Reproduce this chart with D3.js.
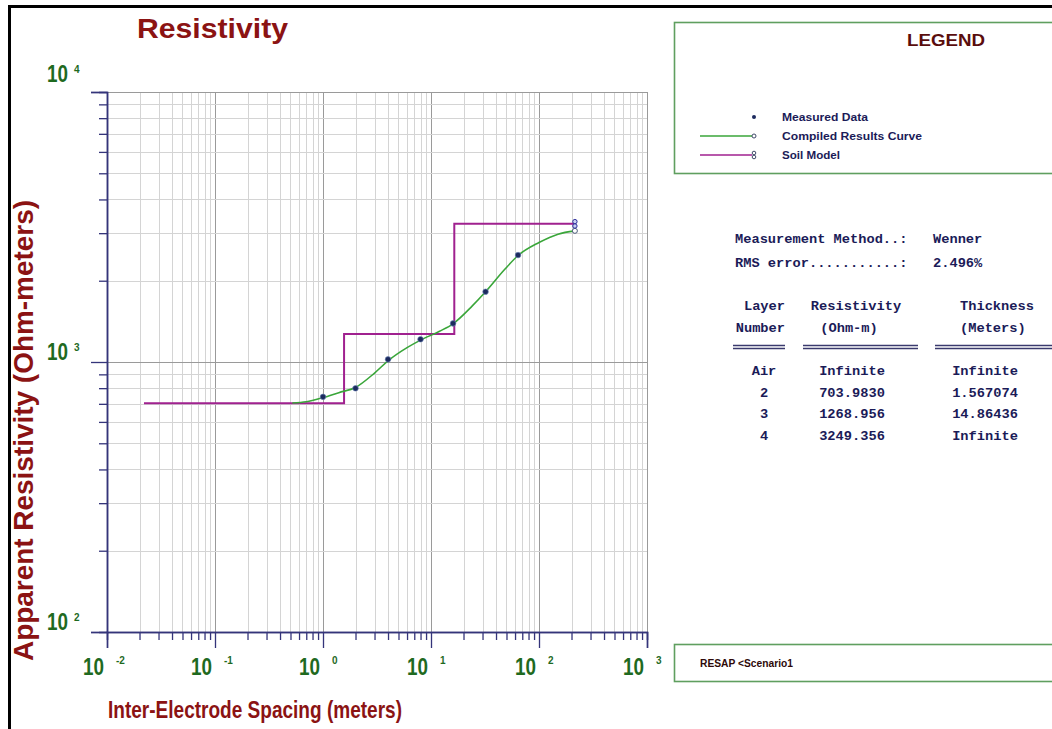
<!DOCTYPE html>
<html><head><meta charset="utf-8">
<script src="https://cdn.jsdelivr.net/npm/d3@7"></script>
<style>
html,body{margin:0;padding:0;background:#fff;}
svg{display:block;}
</style></head>
<body>
<svg id="chart" width="1052" height="729"></svg>
<script>
// ---- data ----
const measuredSpacing = [1, 2, 4, 8, 16, 32, 64];
const measuredRho = [743, 799, 1023, 1214, 1390, 1821, 2489];
const curveSpacing = [0.52, 0.7, 1, 1.4, 2, 3, 4, 6, 8, 12, 16, 24, 32, 48, 64, 100, 150, 215];
const curveRho = [705, 712, 738, 770, 805, 910, 1010, 1130, 1205, 1300, 1385, 1610, 1820, 2200, 2480, 2770, 2975, 3060];
const modelSpacing = [0.022, 1.567074, 16.431434, 215];
const modelRho = [703.983, 1268.956, 3249.356, 3249.356];
const xTickExp = [-2, -1, 0, 1, 2, 3];
const yTickExp = [2, 3, 4];
const layerNames = ["Air", "2", "3", "4"];
const layerRho = ["Infinite", "703.9830", "1268.956", "3249.356"];
const layerThick = ["Infinite", "1.567074", "14.86436", "Infinite"];
const legendLabels = ["Measured Data", "Compiled Results Curve", "Soil Model"];
const infoLabels = ["Measurement Method..:", "RMS error...........:"];
const infoValues = ["Wenner", "2.496%"];

// ---- styling ----
const RED = "#8b1313", GREEN_TXT = "#1f6a1f", AXIS = "#34347a", NAVY = "#1b1b58";
const CURVE = "#3aa63a", MODEL = "#a0218f", BOX = "#5f9f5f";
const SANS = "'Liberation Sans', Arial, sans-serif";
const MONO = "'Liberation Mono', 'DejaVu Sans Mono', monospace";

const svg = d3.select("#chart");
svg.append("rect").attr("width", 1052).attr("height", 729).attr("fill", "#fff");

// frame
svg.append("line").attr("x1", 9.5).attr("x2", 9.5).attr("y1", 5).attr("y2", 729).attr("stroke", "#000").attr("stroke-width", 3);
svg.append("line").attr("x1", 8).attr("x2", 1052).attr("y1", 6.5).attr("y2", 6.5).attr("stroke", "#000").attr("stroke-width", 3);

const x = d3.scaleLog().domain([1e-2, 1e3]).range([107, 647]);
const y = d3.scaleLog().domain([1e2, 1e4]).range([632, 92]);

const xAll = x.ticks();
const yAll = y.ticks();
const isMajor = v => Math.abs(Math.log10(v) - Math.round(Math.log10(v))) < 1e-9;

// grid
const g = svg.append("g");
g.selectAll(".vx").data(xAll).join("line")
  .attr("x1", d => Math.round(x(d)) + 0.5).attr("x2", d => Math.round(x(d)) + 0.5)
  .attr("y1", y.range()[1]).attr("y2", y.range()[0])
  .attr("stroke", d => isMajor(d) ? "#9a9a9a" : "#d4d4d4").attr("stroke-width", 1);
g.selectAll(".hy").data(yAll).join("line")
  .attr("y1", d => Math.round(y(d)) + 0.5).attr("y2", d => Math.round(y(d)) + 0.5)
  .attr("x1", x.range()[0]).attr("x2", x.range()[1])
  .attr("stroke", d => isMajor(d) ? "#9a9a9a" : "#d4d4d4").attr("stroke-width", 1);

// axes
const xMinorAxis = d3.axisBottom(x).tickValues(xAll.filter(d => !isMajor(d))).tickSize(8).tickFormat("");
const xMajorAxis = d3.axisBottom(x).tickValues(xAll.filter(isMajor)).tickSize(16).tickFormat("");
const yMinorAxis = d3.axisLeft(y).tickValues(yAll.filter(d => !isMajor(d))).tickSize(8).tickFormat("");
const yMajorAxis = d3.axisLeft(y).tickValues(yAll.filter(isMajor)).tickSize(16).tickFormat("");
function styleAxis(sel) {
  sel.selectAll("path").attr("stroke", AXIS).attr("stroke-width", 1.5);
  sel.selectAll("line").attr("stroke", AXIS).attr("stroke-width", 1.3);
}
svg.append("g").attr("transform", "translate(0,632)").call(xMinorAxis).call(styleAxis);
svg.append("g").attr("transform", "translate(0,632)").call(xMajorAxis).call(styleAxis);
svg.append("g").attr("transform", "translate(107,0)").call(yMinorAxis).call(styleAxis);
svg.append("g").attr("transform", "translate(107,0)").call(yMajorAxis).call(styleAxis);

// tick labels  10^n
xTickExp.forEach(e => {
  const px = x(Math.pow(10, e));
  svg.append("text").attr("x", px - 3).attr("y", 675).attr("text-anchor", "end")
    .attr("font-family", SANS).attr("font-weight", "bold").attr("font-size", 23)
    .attr("textLength", 21).attr("lengthAdjust", "spacingAndGlyphs")
    .attr("fill", GREEN_TXT).text("10");
  svg.append("text").attr("x", px + 9).attr("y", 664)
    .attr("font-family", SANS).attr("font-weight", "bold").attr("font-size", 10)
    .attr("fill", GREEN_TXT).text(String(e));
});
yTickExp.forEach(e => {
  const py = y(Math.pow(10, e));
  const base = e === 4 ? py - 10 : py - 2;
  svg.append("text").attr("x", 68).attr("y", base).attr("text-anchor", "end")
    .attr("font-family", SANS).attr("font-weight", "bold").attr("font-size", 23)
    .attr("textLength", 21).attr("lengthAdjust", "spacingAndGlyphs")
    .attr("fill", GREEN_TXT).text("10");
  svg.append("text").attr("x", 74).attr("y", base - 9)
    .attr("font-family", SANS).attr("font-weight", "bold").attr("font-size", 10)
    .attr("fill", GREEN_TXT).text(String(e));
});

// titles
svg.append("text").attr("x", 137).attr("y", 38)
  .attr("font-family", SANS).attr("font-weight", "bold").attr("font-size", 28)
  .attr("textLength", 151).attr("lengthAdjust", "spacingAndGlyphs")
  .attr("fill", RED).text("Resistivity");
svg.append("text").attr("x", 108).attr("y", 718)
  .attr("font-family", SANS).attr("font-weight", "bold").attr("font-size", 24)
  .attr("textLength", 294).attr("lengthAdjust", "spacingAndGlyphs")
  .attr("fill", RED).text("Inter-Electrode Spacing (meters)");
svg.append("text").attr("transform", "translate(33,661) rotate(-90)")
  .attr("font-family", SANS).attr("font-weight", "bold").attr("font-size", 28)
  .attr("textLength", 461).attr("lengthAdjust", "spacingAndGlyphs")
  .attr("fill", RED).text("Apparent Resistivity (Ohm-meters)");

// soil model
const modelPts = modelSpacing.map((s, i) => [s, modelRho[i]]);
svg.append("path").datum(modelPts)
  .attr("d", d3.line().x(d => x(d[0])).y(d => y(d[1])).curve(d3.curveStepAfter))
  .attr("fill", "none").attr("stroke", MODEL).attr("stroke-width", 2);

// compiled curve
const curvePts = curveSpacing.map((s, i) => [s, curveRho[i]]);
svg.append("path").datum(curvePts)
  .attr("d", d3.line().x(d => x(d[0])).y(d => y(d[1])).curve(d3.curveMonotoneX))
  .attr("fill", "none").attr("stroke", CURVE).attr("stroke-width", 1.6);

// end markers
const lastC = curvePts[curvePts.length - 1];
svg.append("circle").attr("cx", x(lastC[0])).attr("cy", y(lastC[1])).attr("r", 2.5)
  .attr("fill", "#fff").attr("stroke", "#4a5a7a").attr("stroke-width", 1);
const lastM = modelPts[modelPts.length - 1];
[-2.2, 2.2].forEach(o => {
  svg.append("circle").attr("cx", x(lastM[0])).attr("cy", y(lastM[1]) + o).attr("r", 2.2)
    .attr("fill", "#c8d0f0").attr("stroke", "#2a2a9a").attr("stroke-width", 1);
});

// measured data
svg.selectAll(".pt").data(measuredSpacing.map((s, i) => [s, measuredRho[i]])).join("circle")
  .attr("cx", d => x(d[0])).attr("cy", d => y(d[1])).attr("r", 2.8)
  .attr("fill", "#1c2a5e").attr("stroke", "#6f88b8").attr("stroke-width", 0.6);

// legend box
svg.append("rect").attr("x", 674.5).attr("y", 22.5).attr("width", 400).attr("height", 151)
  .attr("fill", "none").attr("stroke", BOX).attr("stroke-width", 1.6);
svg.append("text").attr("x", 907).attr("y", 46)
  .attr("font-family", SANS).attr("font-weight", "bold").attr("font-size", 16)
  .attr("textLength", 78).attr("lengthAdjust", "spacingAndGlyphs")
  .attr("fill", "#5a0d0d").text("LEGEND");
const legY = [117, 136, 155];
const legLen = [86, 140, 58];
legendLabels.forEach((t, i) => {
  svg.append("text").attr("x", 782).attr("y", legY[i] + 4)
    .attr("font-family", SANS).attr("font-weight", "bold").attr("font-size", 11.5)
    .attr("textLength", legLen[i]).attr("lengthAdjust", "spacingAndGlyphs")
    .attr("fill", NAVY).text(t);
});
svg.append("circle").attr("cx", 754).attr("cy", legY[0]).attr("r", 2).attr("fill", "#1c2a5e");
svg.append("line").attr("x1", 700).attr("x2", 752).attr("y1", legY[1]).attr("y2", legY[1]).attr("stroke", CURVE).attr("stroke-width", 1.3);
svg.append("circle").attr("cx", 754).attr("cy", legY[1]).attr("r", 2).attr("fill", "#fff").attr("stroke", "#404a6a").attr("stroke-width", 1);
svg.append("line").attr("x1", 700).attr("x2", 752).attr("y1", legY[2]).attr("y2", legY[2]).attr("stroke", MODEL).attr("stroke-width", 1.3);
[-2, 2].forEach(o => svg.append("circle").attr("cx", 754).attr("cy", legY[2] + o).attr("r", 1.8)
  .attr("fill", "#fff").attr("stroke", "#404a6a").attr("stroke-width", 1));

// info table
function mono(xp, yp, t, anchor) {
  svg.append("text").attr("x", xp).attr("y", yp).attr("text-anchor", anchor || "start")
    .attr("font-family", MONO).attr("font-weight", "bold").attr("font-size", 13.7)
    .attr("fill", NAVY).attr("xml:space", "preserve").text(t);
}
infoLabels.forEach((t, i) => {
  mono(735, 243 + i * 24, t);
  mono(933, 243 + i * 24, infoValues[i]);
});
mono(785, 310, "Layer", "end");
mono(785, 332, "Number", "end");
mono(856, 310, "Resistivity", "middle");
mono(849, 332, "(Ohm-m)", "middle");
mono(960, 310, "Thickness");
mono(960, 332, "(Meters)");
[[733, 785], [803, 918], [935, 1052]].forEach(s => {
  [345.5, 348.5].forEach(yy => svg.append("line").attr("x1", s[0]).attr("x2", s[1])
    .attr("y1", yy).attr("y2", yy).attr("stroke", "#3a3a6e").attr("stroke-width", 1.4));
});
const rowY = [375, 397, 418, 440];
layerNames.forEach((n, i) => {
  mono(764, rowY[i], n, "middle");
  mono(852, rowY[i], layerRho[i], "middle");
  mono(985, rowY[i], layerThick[i], "middle");
});

// bottom box
svg.append("rect").attr("x", 674.5).attr("y", 644.5).attr("width", 400).attr("height", 37)
  .attr("fill", "none").attr("stroke", BOX).attr("stroke-width", 1.6);
svg.append("text").attr("x", 700).attr("y", 667)
  .attr("font-family", SANS).attr("font-weight", "bold").attr("font-size", 10.5)
  .attr("textLength", 93).attr("lengthAdjust", "spacingAndGlyphs")
  .attr("fill", "#2e0909").text("RESAP <Scenario1");
</script>
</body></html>
